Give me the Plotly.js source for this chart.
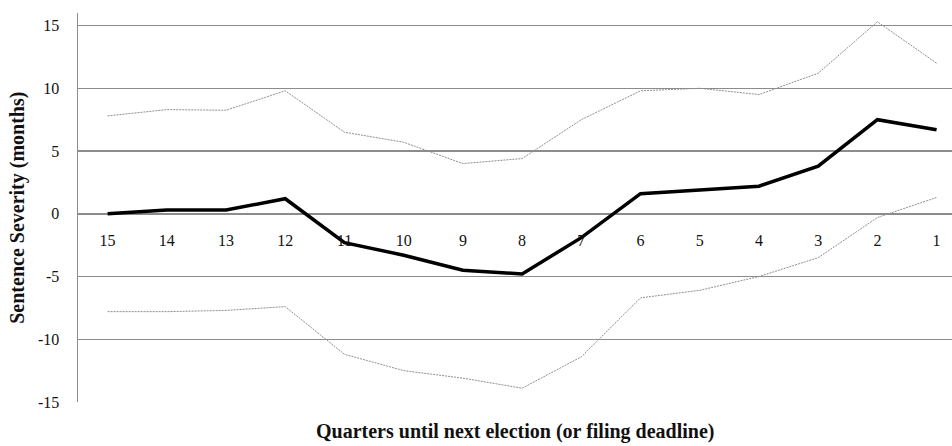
<!DOCTYPE html>
<html>
<head>
<meta charset="utf-8">
<script src="https://cdn.plot.ly/plotly-3.0.1.min.js"></script>
<style>html,body{margin:0;padding:0;background:#fff;}#chart{width:952px;height:446px;}</style>
</head>
<body>
<div id="chart"></div>
<script>
const quarters = ["15","14","13","12","11","10","9","8","7","6","5","4","3","2","1"];
const estimate = [0.0, 0.3, 0.3, 1.2, -2.3, -3.3, -4.5, -4.8, -1.9, 1.6, 1.9, 2.2, 3.8, 7.5, 6.7];
const upperBound = [7.8, 8.3, 8.25, 9.8, 6.5, 5.7, 4.0, 4.4, 7.5, 9.8, 10.0, 9.5, 11.2, 15.3, 12.0];
const lowerBound = [-7.8, -7.8, -7.7, -7.4, -11.2, -12.5, -13.1, -13.9, -11.4, -6.7, -6.1, -5.0, -3.5, -0.3, 1.3];
const yTickVals = [-15, -10, -5, 0, 5, 10, 15];
const yTickText = ["-15", "-10", "-5", "0", "5", "10", "15"];

const xIdx = quarters.map((q, i) => i);
const font = "'Liberation Serif', 'Times New Roman', serif";

const traces = [
  {x: xIdx, y: upperBound, mode: "lines", line: {color: "#8f8f8f", width: 1, dash: "2px,1px"}, hoverinfo: "skip"},
  {x: xIdx, y: lowerBound, mode: "lines", line: {color: "#8f8f8f", width: 1, dash: "2px,1px"}, hoverinfo: "skip"},
  {x: xIdx, y: estimate, mode: "lines", line: {color: "#000", width: 3.5}}
];

const layout = {
  width: 952, height: 446,
  margin: {l: 78, r: 0, t: 13, b: 44},
  paper_bgcolor: "#fff", plot_bgcolor: "#fff",
  showlegend: false,
  font: {family: font, size: 16, color: "#111"},
  xaxis: {
    range: [-0.5, 14.26],
    tickvals: xIdx, ticktext: quarters,
    anchor: "free", position: 0.483,
    showline: false, showgrid: false, zeroline: false,
    ticks: "", ticklabelstandoff: 15,
    tickfont: {family: font, size: 16, color: "#111"}
  },
  yaxis: {
    range: [-15, 16],
    tickvals: yTickVals, ticktext: yTickText,
    showgrid: true, gridcolor: "#8c8c8c", gridwidth: 1.5,
    zeroline: false,
    showline: true, linecolor: "#8c8c8c", linewidth: 1.5,
    ticks: "", ticklabelstandoff: 14,
    tickfont: {family: font, size: 16, color: "#111"}
  },
  annotations: [
    {text: "<b>Quarters until next election (or filing deadline)</b>", xref: "paper", yref: "paper",
     x: 0.5, y: -0.11, xanchor: "center", yanchor: "bottom", showarrow: false,
     font: {family: font, size: 20, color: "#111"}},
    {text: "<b>Sentence Severity (months)</b>", xref: "paper", yref: "paper",
     x: -0.0695, y: 0.5, xanchor: "center", yanchor: "middle", textangle: -90, showarrow: false,
     font: {family: font, size: 20, color: "#111"}}
  ]
};

Plotly.newPlot("chart", traces, layout, {displayModeBar: false, staticPlot: true});
</script>
</body>
</html>
